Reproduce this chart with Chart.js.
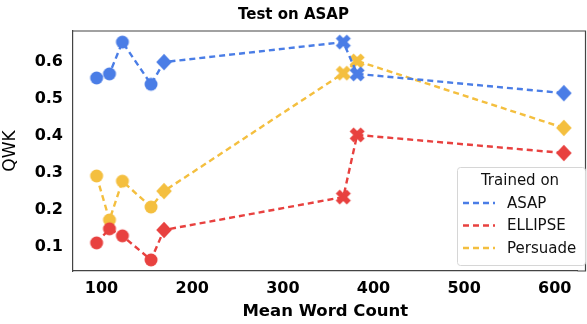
<!DOCTYPE html>
<html>
<head>
<meta charset="utf-8">
<script src="https://cdn.jsdelivr.net/npm/chart.js@4.4.0/dist/chart.umd.min.js"></script>
<style>
  html, body { margin: 0; padding: 0; background: #fff; }
  #wrap { width: 587px; height: 324px; position: relative; }
</style>
</head>
<body>
<div id="wrap"><canvas id="c"></canvas></div>
<script>
// ---- data ----
const wordCounts = [94.5, 108.7, 123, 154.6, 168.9, 366.7, 382, 610];
const asapQwk = [0.557, 0.568, 0.654, 0.540, 0.600, 0.654, 0.568, 0.516];
const ellipseQwk = [0.111, 0.149, 0.130, 0.065, 0.146, 0.235, 0.403, 0.354];
const persuadeQwk = [0.292, 0.173, 0.278, 0.208, 0.251, 0.570, 0.603, 0.422];
const markerKinds = ['circle', 'circle', 'circle', 'circle', 'diamond', 'x', 'x', 'diamond'];
const seriesNames = ['ASAP', 'ELLIPSE', 'Persuade'];
const xTicks = [100, 200, 300, 400, 500, 600];
const yTicks = [0.1, 0.2, 0.3, 0.4, 0.5, 0.6];

const FONT = "'DejaVu Sans', sans-serif";
const COLORS = ['#4a7de6', '#e8413f', '#f4bf3f'];

// marker images
function makeMarker(kind, color) {
  const s = 18, c = document.createElement('canvas');
  c.width = s; c.height = s;
  const g = c.getContext('2d');
  g.fillStyle = color;
  const m = s / 2;
  if (kind === 'circle') {
    g.beginPath(); g.arc(m, m, 6.5, 0, Math.PI * 2); g.fill();
  } else if (kind === 'diamond') {
    g.beginPath();
    g.moveTo(m, m - 8.3); g.lineTo(m + 7.8, m); g.lineTo(m, m + 8.3); g.lineTo(m - 7.8, m);
    g.closePath(); g.fill();
  } else {
    // filled X
    g.translate(m, m); g.rotate(Math.PI / 4);
    const a = 7.8, w = 2.8;
    g.fillRect(-a, -w, 2 * a, 2 * w);
    g.fillRect(-w, -a, 2 * w, 2 * a);
  }
  return c;
}

function buildSet(label, values, color) {
  return {
    label,
    data: wordCounts.map((x, i) => ({ x, y: values[i] })),
    borderColor: color,
    backgroundColor: color,
    borderWidth: 2.4,
    borderDash: [6, 4],
    pointStyle: markerKinds.map(k => makeMarker(k, color)),
    pointRadius: 7,
    pointHoverRadius: 7,
    tension: 0,
    clip: false
  };
}

const boxPlugin = {
  id: 'box',
  afterDraw(chart) {
    const { ctx, chartArea: a } = chart;
    ctx.save();
    // frame: top and right spines (right one sits at the canvas edge)
    const rx = chart.width - 1.5;
    ctx.strokeStyle = '#444';
    ctx.lineWidth = 1.2;
    ctx.beginPath();
    ctx.moveTo(a.left, a.top); ctx.lineTo(rx, a.top); ctx.lineTo(rx, a.bottom); ctx.lineTo(a.right, a.bottom);
    ctx.stroke();

    // legend box
    const bx = 457, by = 167, bw = 128, bh = 98;
    ctx.fillStyle = 'rgba(255,255,255,0.85)';
    ctx.strokeStyle = '#d6d6d6';
    ctx.lineWidth = 1;
    ctx.beginPath();
    ctx.roundRect(bx + 0.5, by + 0.5, bw, bh, 3);
    ctx.fill(); ctx.stroke();
    ctx.fillStyle = '#111';
    ctx.font = '15px ' + FONT;
    ctx.textAlign = 'center';
    ctx.textBaseline = 'middle';
    ctx.fillText('Trained on', bx + bw / 2 - 1, by + 14);
    ctx.textAlign = 'left';
    seriesNames.forEach((n, i) => {
      const yy = by + 36 + i * 22.5;
      ctx.strokeStyle = COLORS[i];
      ctx.lineWidth = 2.4;
      ctx.setLineDash([6, 4]);
      ctx.beginPath(); ctx.moveTo(bx + 6, yy); ctx.lineTo(bx + 38, yy); ctx.stroke();
      ctx.setLineDash([]);
      ctx.fillStyle = '#111';
      ctx.fillText(n, bx + 50, yy + 1);
    });
    ctx.restore();
  }
};

new Chart(document.getElementById('c'), {
  type: 'line',
  data: {
    datasets: [
      buildSet(seriesNames[0], asapQwk, COLORS[0]),
      buildSet(seriesNames[1], ellipseQwk, COLORS[1]),
      buildSet(seriesNames[2], persuadeQwk, COLORS[2])
    ]
  },
  options: {
    responsive: true,
    maintainAspectRatio: false,
    animation: false,
    layout: { padding: 0 },
    plugins: {
      legend: { display: false },
      tooltip: { enabled: false },
      title: {
        display: true,
        text: 'Test on ASAP',
        color: '#000',
        font: { family: FONT, size: 15, weight: 'bold' },
        padding: { top: 6, bottom: 7 }
      }
    },
    scales: {
      x: {
        type: 'linear',
        min: 68.5,
        max: 625.2,
        afterBuildTicks: s => { s.ticks = xTicks.map(v => ({ value: v })); },
        afterFit: s => { s.height = 53; s.paddingLeft = 0; s.paddingRight = 0; },
        ticks: {
          color: '#000',
          font: { family: FONT, size: 16, weight: 'bold' },
          padding: 4,
          maxRotation: 0
        },
        grid: { display: false, drawOnChartArea: false, drawTicks: true, tickLength: 4, tickColor: '#444' },
        border: { display: true, color: '#444', width: 1.2 },
        title: {
          display: true,
          text: 'Mean Word Count',
          color: '#000',
          font: { family: FONT, size: 16.5, weight: 'bold' },
          padding: { top: 0, bottom: 2 }
        }
      },
      y: {
        type: 'linear',
        min: 0.035,
        max: 0.684,
        afterBuildTicks: s => { s.ticks = yTicks.map(v => ({ value: v })); },
        afterFit: s => { s.width = 73; s.paddingTop = 0; s.paddingBottom = 0; },
        ticks: {
          color: '#000',
          font: { family: FONT, size: 16, weight: 'bold' },
          padding: 6,
          callback: v => v.toFixed(1)
        },
        grid: { display: false, drawOnChartArea: false, drawTicks: true, tickLength: 4, tickColor: '#444' },
        border: { display: true, color: '#444', width: 1.2 },
        title: {
          display: true,
          text: 'QWK',
          color: '#000',
          font: { family: FONT, size: 17 },
          padding: { top: 0, bottom: 4 }
        }
      }
    }
  },
  plugins: [boxPlugin]
});
</script>
</body>
</html>
